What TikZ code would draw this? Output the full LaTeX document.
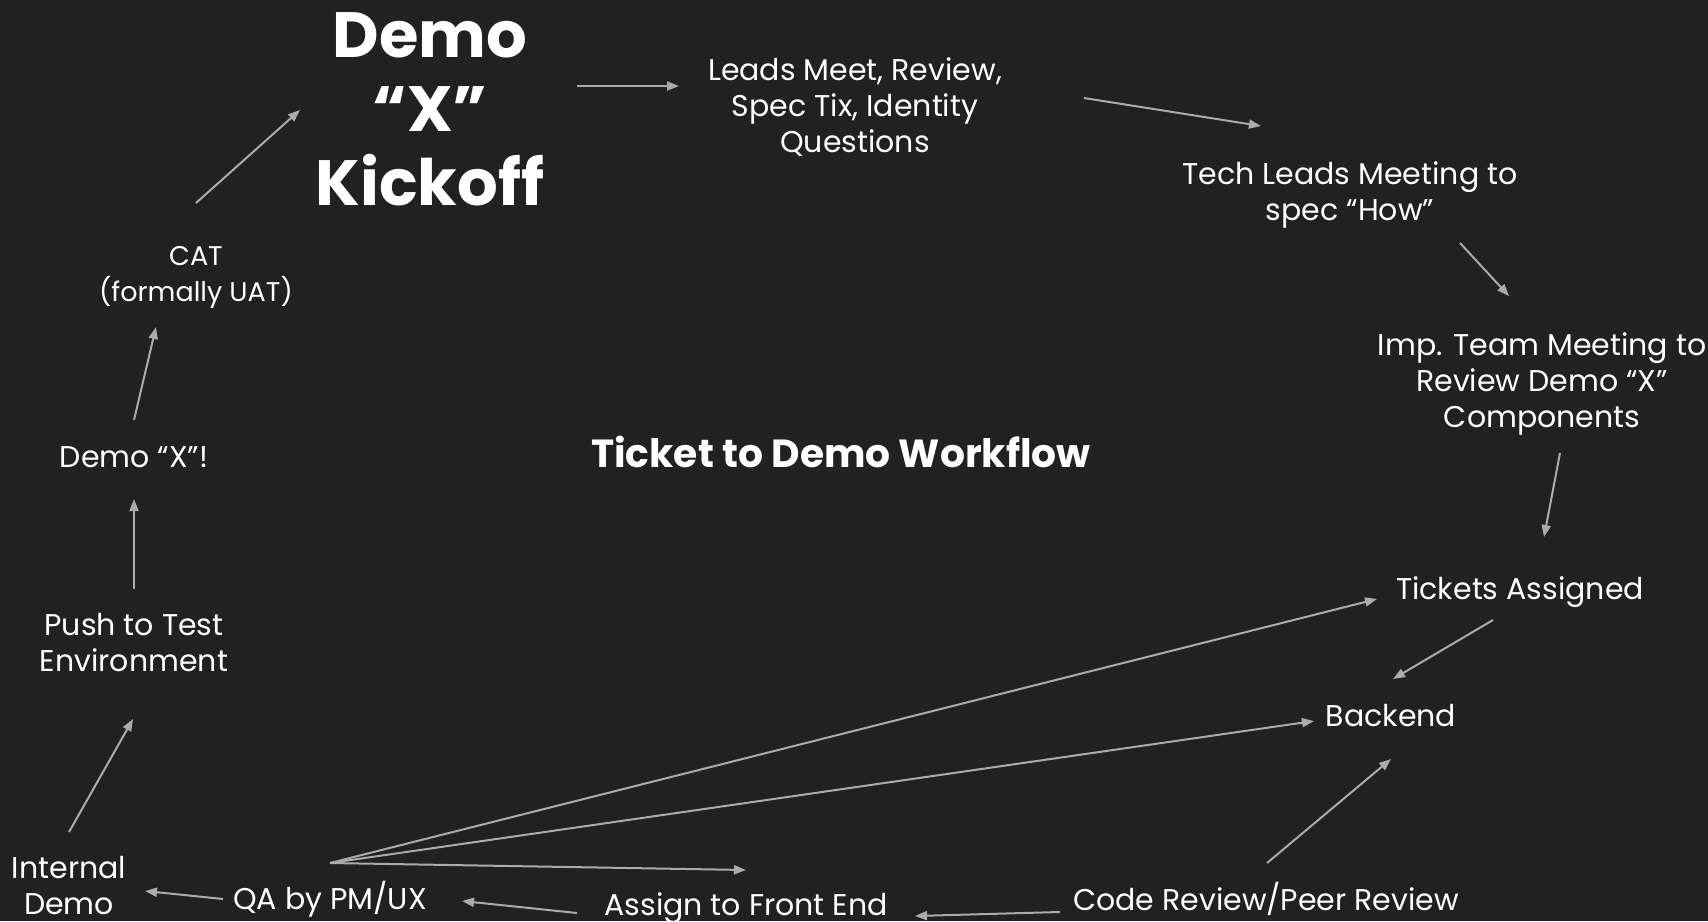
\documentclass[tikz,border=0pt]{standalone}
\usepackage{fontspec}
\setmainfont{Poppins}
\usetikzlibrary{arrows.meta}
\definecolor{bg}{HTML}{212121}
\definecolor{arrc}{HTML}{ABABAB}
\tikzset{
  lbl/.style={text=white, align=center, inner sep=0pt, font=\fontsize{15}{18}\selectfont},
  big/.style={text=white, align=center, inner sep=0pt, font=\bfseries\fontsize{32}{37}\selectfont},
  ttl/.style={text=white, align=center, inner sep=0pt, font=\bfseries\fontsize{19.6}{22}\selectfont},
  arr/.style={draw=arrc, line width=1pt, -{Triangle[length=6pt,width=4.5pt]}},
}
\begin{document}
\begin{tikzpicture}[x=0.5pt,y=-0.5pt]
\fill[bg] (0,0) rectangle (1708,921);
\useasboundingbox (0,0) rectangle (1708,921);

% nodes
\node[big] (kick) at (430,109) {Demo\\“X”\\Kickoff};
\node[lbl] (leads) at (855,107) {Leads Meet, Review,\\Spec Tix, Identity\\Questions};
\node[lbl] (tech) at (1350,195) {Tech Leads Meeting to\\spec “How”};
\node[lbl] (imp) at (1542,384) {Imp. Team Meeting to\\Review Demo “X”\\Components};
\node[lbl] (tix) at (1520,592) {Tickets Assigned};
\node[lbl] (back) at (1391,716) {Backend};
\node[lbl] (code) at (1266,899) {Code Review/Peer Review};
\node[lbl] (fe) at (746,908) {Assign to Front End};
\node[lbl] (qa) at (330,899) {QA by PM/UX};
\node[lbl] (internal) at (69,886) {Internal\\Demo};
\node[lbl] (push) at (134,643) {Push to Test\\Environment};
\node[lbl] (demox) at (134,457) {Demo “X”!};
\node[lbl, font=\fontsize{13.5}{18}\selectfont] (cat) at (196,277) {CAT\\(formally UAT)};
\node[ttl] (title) at (841,452) {Ticket to Demo Workflow};

% arrow end points
\coordinate (catS) at (196,203);   \coordinate (kickE) at (300,110);
\coordinate (kickS) at (577,86);   \coordinate (leadsE) at (679,86);
\coordinate (leadsS) at (1084,98); \coordinate (techE) at (1261,126);
\coordinate (techS) at (1460,243); \coordinate (impE) at (1509,296);
\coordinate (impS) at (1560,453);  \coordinate (tixE) at (1544,537);
\coordinate (tixS) at (1493,620);  \coordinate (backE) at (1393,679);
\coordinate (codeS) at (1267,863); \coordinate (backE2) at (1391,759);
\coordinate (codeS2) at (1060,912);\coordinate (feE) at (915,916);
\coordinate (feS) at (577,913);    \coordinate (qaE) at (462,901);
\coordinate (qaS) at (223,899);    \coordinate (intE) at (145,891);
\coordinate (intS) at (69,832);    \coordinate (pushE) at (133,719);
\coordinate (pushS) at (134,589);  \coordinate (demoxE) at (134,499);
\coordinate (demoxS) at (134,420); \coordinate (catE) at (156,327);
\coordinate (fan) at (330,863);
\coordinate (fanT) at (1377,599);
\coordinate (fanB) at (1314,721);
\coordinate (fanF) at (746,870);

% connectors
\draw[arr] (catS) -- (kickE);
\draw[arr] (kickS) -- (leadsE);
\draw[arr] (leadsS) -- (techE);
\draw[arr] (techS) -- (impE);
\draw[arr] (impS) -- (tixE);
\draw[arr] (tixS) -- (backE);
\draw[arr] (codeS) -- (backE2);
\draw[arr] (codeS2) -- (feE);
\draw[arr] (feS) -- (qaE);
\draw[arr] (qaS) -- (intE);
\draw[arr] (intS) -- (pushE);
\draw[arr] (pushS) -- (demoxE);
\draw[arr] (demoxS) -- (catE);
\draw[arr] (fan) -- (fanT);
\draw[arr] (fan) -- (fanB);
\draw[arr] (fan) -- (fanF);
\end{tikzpicture}
\end{document}
